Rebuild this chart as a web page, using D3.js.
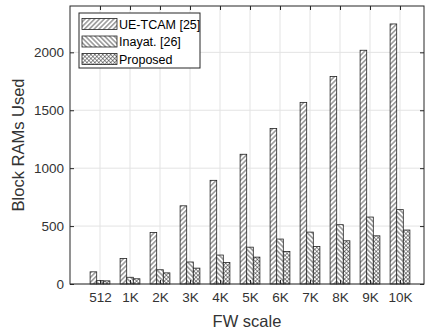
<!DOCTYPE html>
<html>
<head>
<meta charset="utf-8">
<script src="https://cdn.jsdelivr.net/npm/d3@7"></script>
<style>
  html, body { margin: 0; padding: 0; background: #fff; }
  svg { display: block; font-family: "Liberation Sans", Arial, sans-serif; }
</style>
</head>
<body>
<svg id="chart" width="430" height="332"></svg>
<script>
// FW scale categories and Block RAM usage for each design
const categories = ["512", "1K", "2K", "3K", "4K", "5K", "6K", "7K", "8K", "9K", "10K"];
const ueTcam   = [105, 220, 445, 675, 895, 1120, 1342, 1568, 1792, 2018, 2245];
const inayat   = [29, 58, 123, 190, 250, 318, 388, 448, 512, 578, 642];
const proposed = [27, 45, 96, 137, 185, 232, 281, 324, 373, 416, 466];
const seriesNames = ["UE-TCAM [25]", "Inayat. [26]", "Proposed"];
const yTicks = [0, 500, 1000, 1500, 2000];

const patternIds = ["hatchFwd", "hatchBack", "hatchCross"];

const svg = d3.select("#chart");
const margin = { left: 70, top: 6, right: 6, bottom: 48 };
const W = 430, H = 332;
const x0 = margin.left, x1 = W - margin.right;
const y0 = H - margin.bottom, y1 = margin.top;
const axisColor = "#262626";

// Hatch patterns used to fill each series (vertical strokes, rotated)
const defs = svg.append("defs");
function hatch(id, rotations, gap, sw) {
  rotations.forEach((rot, k) => {
    const p = defs.append("pattern")
      .attr("id", rotations.length > 1 ? `${id}_${k}` : id)
      .attr("patternUnits", "userSpaceOnUse")
      .attr("width", gap).attr("height", gap)
      .attr("patternTransform", `rotate(${rot})`);
    if (k === 0) p.append("rect").attr("width", gap).attr("height", gap).attr("fill", "#fff");
    p.append("line").attr("x1", gap / 2).attr("x2", gap / 2)
      .attr("y1", 0).attr("y2", gap)
      .attr("stroke", "#333").attr("stroke-width", sw);
  });
}
hatch("hatchFwd", [45], 3.4, 0.8);
hatch("hatchBack", [-45], 3.4, 0.8);
hatch("hatchCross", [45, -45], 2.8, 0.55);

// Scales: categories sit at integer positions, bars grouped around them
const x = d3.scaleLinear().domain([-1, categories.length - 0.2]).range([x0, x1]);
const y = d3.scaleLinear().domain([0, 2400]).range([y0, y1]);
const step = x(1) - x(0);
const barW = step * 0.22;

// Grid
const grid = svg.append("g");
yTicks.forEach(t => {
  grid.append("line").attr("x1", x0).attr("x2", x1)
    .attr("y1", y(t)).attr("y2", y(t))
    .attr("stroke", "#e3e3e3").attr("stroke-width", 1);
});
categories.forEach((c, i) => {
  grid.append("line").attr("x1", x(i)).attr("x2", x(i))
    .attr("y1", y0).attr("y2", y1)
    .attr("stroke", "#e3e3e3").attr("stroke-width", 1);
});

// Bars; the cross-hatched series stacks two line layers
function drawBars(vals, s, fill, stroke) {
  svg.append("g").selectAll("rect")
    .data(vals)
    .join("rect")
    .attr("x", (d, i) => x(i) + (s - 1.5) * barW)
    .attr("width", barW)
    .attr("y", d => y(d))
    .attr("height", d => y(0) - y(d))
    .attr("fill", fill)
    .attr("stroke", stroke)
    .attr("stroke-width", 0.8);
}
drawBars(ueTcam, 0, "url(#hatchFwd)", "#222");
drawBars(inayat, 1, "url(#hatchBack)", "#222");
drawBars(proposed, 2, "url(#hatchCross_0)", "none");
drawBars(proposed, 2, "url(#hatchCross_1)", "#222");

// Axes
const yAxis = d3.axisLeft(y).tickValues(yTicks).tickFormat(d3.format("d")).tickSize(-4).tickPadding(6);
const gy = svg.append("g").attr("transform", `translate(${x0},0)`).call(yAxis);
const xAxis = d3.axisBottom(x).tickValues(d3.range(categories.length))
  .tickFormat(i => categories[i]).tickSize(-4).tickPadding(8);
const gx = svg.append("g").attr("transform", `translate(0,${y0})`).call(xAxis);
[gx, gy].forEach(g => {
  g.select(".domain").remove();
  g.selectAll("line").attr("stroke", axisColor);
  g.selectAll("text").attr("fill", "#333").style("font-size", "13.5px")
    .style("font-family", "'Liberation Sans', Arial, sans-serif");
});
// Mirrored ticks on top and right
svg.append("g").attr("transform", `translate(0,${y1})`)
  .call(d3.axisTop(x).tickValues(d3.range(categories.length)).tickSize(-4).tickFormat(""))
  .call(g => { g.select(".domain").remove(); g.selectAll("line").attr("stroke", axisColor); });
svg.append("g").attr("transform", `translate(${x1},0)`)
  .call(d3.axisRight(y).tickValues(yTicks).tickSize(-4).tickFormat(""))
  .call(g => { g.select(".domain").remove(); g.selectAll("line").attr("stroke", axisColor); });

// Box
svg.append("rect").attr("x", x0).attr("y", y1)
  .attr("width", x1 - x0).attr("height", y0 - y1)
  .attr("fill", "none").attr("stroke", axisColor).attr("stroke-width", 1);

// Axis titles
svg.append("text").attr("x", (x0 + x1) / 2).attr("y", 327)
  .attr("text-anchor", "middle").attr("fill", "#333")
  .style("font-size", "16.5px").text("FW scale");
svg.append("text")
  .attr("transform", `translate(24,${(y0 + y1) / 2}) rotate(-90)`)
  .attr("text-anchor", "middle").attr("fill", "#333")
  .style("font-size", "16.5px").text("Block RAMs Used");

// Legend
const lg = svg.append("g").attr("transform", "translate(79,13)");
lg.append("rect").attr("width", 121).attr("height", 55)
  .attr("fill", "#fff").attr("stroke", axisColor).attr("stroke-width", 1);
seriesNames.forEach((name, s) => {
  const cy = 11 + s * 17.5;
  const sw = (fill, stroke) => lg.append("rect").attr("x", 3).attr("y", cy - 5.5)
    .attr("width", 35).attr("height", 11)
    .attr("fill", fill).attr("stroke", stroke).attr("stroke-width", 0.8);
  if (s === 2) { sw("url(#hatchCross_0)", "none"); sw("url(#hatchCross_1)", "#222"); }
  else sw(`url(#${patternIds[s]})`, "#222");
  lg.append("text").attr("x", 40).attr("y", cy + 4.5)
    .attr("fill", "#000").style("font-size", "12.5px").text(name);
});
</script>
</body>
</html>
